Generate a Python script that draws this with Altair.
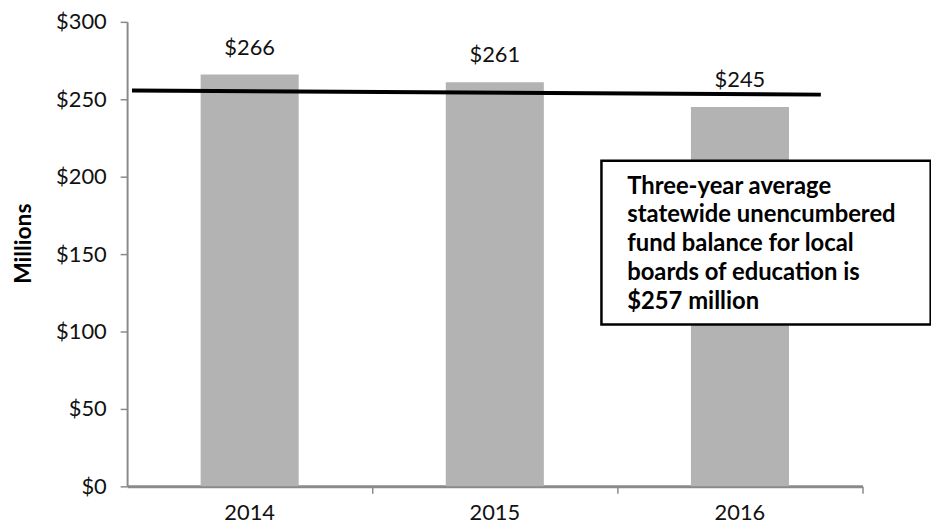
import altair as alt
import pandas as pd

years = ["2014", "2015", "2016"]
values = [266, 261, 245]
labels = ["$266", "$261", "$245"]

# average line (in band units along x: 0 = left edge, 3 = right edge)
avg_x = [0.02, 2.83]
avg_y = [255.6, 253.0]

# annotation box (band units / millions)
note_x = [1.935, 3.278]
note_y = [104.5, 210.3]
note_text_x = [2.04]
note_text_y = [189.1]
note_lines = [
    "Three-year average",
    "statewide unencumbered",
    "fund balance for local",
    "boards of education is",
    "$257 million",
]

FONT = "Lato"
AXIS_GRAY = "#8a8a8a"

bars_df = pd.DataFrame({"year": years, "value": values, "label": labels})
line_df = pd.DataFrame({"x": avg_x, "y": avg_y})
box_df = pd.DataFrame({"x": [note_x[0]], "x2": [note_x[1]], "y": [note_y[0]], "y2": [note_y[1]]})
txt_df = pd.DataFrame({"x": note_text_x, "y": note_text_y})

yscale = alt.Scale(domain=[0, 300], nice=False)
xband = alt.X(
    "year:N",
    scale=alt.Scale(paddingInner=0.6, paddingOuter=0.3),
    axis=alt.Axis(
        title=None, labelAngle=0, labelFontSize=22, labelFont=FONT, labelColor="#111",
        labelPadding=9, bandPosition=1.75, tickSize=7, tickColor=AXIS_GRAY, tickWidth=1.5,
        domainColor=AXIS_GRAY, domainWidth=3,
    ),
)
yenc = alt.Y(
    "value:Q",
    scale=yscale,
    axis=alt.Axis(
        title="Millions", titleFont=FONT, titleFontSize=23, titleFontWeight="bold",
        titleColor="#000", titlePadding=20, titleY=223,
        values=[0, 50, 100, 150, 200, 250, 300], format="$,d",
        labelFontSize=22, labelFont=FONT, labelColor="#111", labelPadding=14,
        tickSize=7, tickColor=AXIS_GRAY, tickWidth=1.5,
        domainColor=AXIS_GRAY, domainWidth=2, grid=False,
    ),
)

bars = alt.Chart(bars_df).mark_bar(color="#b3b3b3").encode(x=xband, y=yenc)
bar_labels = alt.Chart(bars_df).mark_text(
    font=FONT, fontSize=22, color="#111", baseline="alphabetic", dy=-20
).encode(x=alt.X("year:N"), y=alt.Y("value:Q"), text="label:N")

band_layer = alt.layer(bars, bar_labels)

xq = alt.Scale(domain=[0, 3], nice=False, zero=False)
line = alt.Chart(line_df).mark_line(color="#000", strokeWidth=4).encode(
    x=alt.X("x:Q", scale=xq, axis=None),
    y=alt.Y("y:Q", scale=yscale),
)
box = alt.Chart(box_df).mark_rect(fill="white", stroke="#000", strokeWidth=2.5).encode(
    x=alt.X("x:Q", scale=xq, axis=None), x2="x2:Q",
    y=alt.Y("y:Q", scale=yscale), y2="y2:Q",
)
note = alt.Chart(txt_df).mark_text(
    font=FONT, fontSize=24, fontWeight="bold", color="#000", align="left",
    baseline="alphabetic", lineHeight=29,
).encode(
    x=alt.X("x:Q", scale=xq, axis=None),
    y=alt.Y("y:Q", scale=yscale),
    text=alt.value(note_lines),
)

chart = alt.layer(band_layer, line, box, note).resolve_scale(x="independent").properties(
    width=741, height=468,
    background="white",
    autosize=alt.AutoSizeParams(type="none"),
    padding={"left": 120, "top": 12, "right": 69, "bottom": 39},
).configure_view(strokeWidth=0)

chart.save("out.html", embed_options={"renderer": "svg", "actions": False})
